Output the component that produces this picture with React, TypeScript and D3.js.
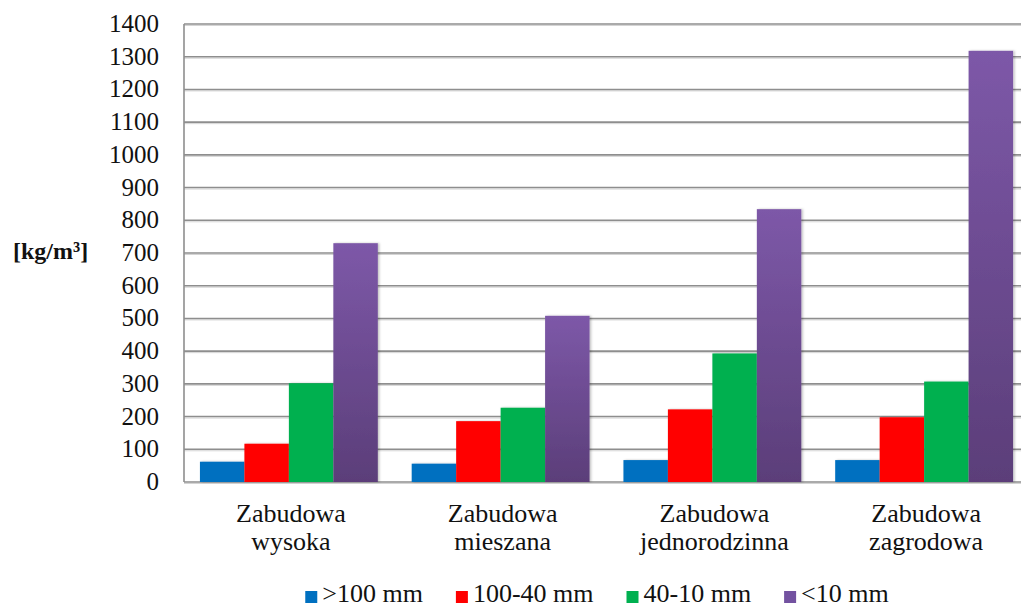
import React, { useEffect, useRef } from "react";
import * as d3 from "d3";

const categories: string[][] = [
  ["Zabudowa", "wysoka"],
  ["Zabudowa", "mieszana"],
  ["Zabudowa", "jednorodzinna"],
  ["Zabudowa", "zagrodowa"],
];
const seriesNames = [">100 mm", "100-40 mm", "40-10 mm", "<10 mm"];
const over100 = [62, 56, 67, 67];
const from100to40 = [117, 186, 222, 198];
const from40to10 = [302, 227, 393, 307];
const under10 = [730, 508, 834, 1318];
const seriesValues = [over100, from100to40, from40to10, under10];
const yTicks = [0, 100, 200, 300, 400, 500, 600, 700, 800, 900, 1000, 1100, 1200, 1300, 1400];
const unitLabel = "[kg/m³]";

const W = 1021;
const H = 612;
const FONT = "'Liberation Serif', 'Times New Roman', serif";

export default function App() {
  const ref = useRef<SVGSVGElement>(null);

  useEffect(() => {
    const svg = d3.select(ref.current);
    svg.selectAll("*").remove();

    const defs = svg.append("defs");
    const grad = defs
      .append("linearGradient")
      .attr("id", "purpleGrad")
      .attr("x1", 0)
      .attr("y1", 0)
      .attr("x2", 0)
      .attr("y2", 1);
    grad.append("stop").attr("offset", "0%").attr("stop-color", "#7d58a8");
    grad.append("stop").attr("offset", "100%").attr("stop-color", "#5b3e79");
    const shadow = defs
      .append("filter")
      .attr("id", "barShadow")
      .attr("x", "-10%")
      .attr("y", "-10%")
      .attr("width", "130%")
      .attr("height", "120%");
    shadow
      .append("feDropShadow")
      .attr("dx", 1.5)
      .attr("dy", 0)
      .attr("stdDeviation", 1.2)
      .attr("flood-color", "#000")
      .attr("flood-opacity", 0.25);

    const colors = ["#0070c0", "#ff0000", "#00b050", "url(#purpleGrad)"];
    const legendColors = ["#0070c0", "#ff0000", "#00b050", "#7352a0"];

    const x0 = d3
      .scaleBand<number>()
      .domain(d3.range(categories.length))
      .range([183, 1030])
      .paddingInner(0.16)
      .paddingOuter(0.08);
    const x1 = d3
      .scaleBand<number>()
      .domain(d3.range(seriesNames.length))
      .range([0, x0.bandwidth()]);
    const y = d3.scaleLinear().domain([0, 1400]).range([482, 24]);

    const plotLeft = 184;
    const plotRight = 1030;

    // gridlines
    const grid = svg.append("g");
    yTicks.forEach((t) => {
      grid
        .append("line")
        .attr("x1", plotLeft)
        .attr("x2", plotRight)
        .attr("y1", y(t) + 1.5)
        .attr("y2", y(t) + 1.5)
        .attr("stroke", "#d4d4d4")
        .attr("stroke-width", 1);
      grid
        .append("line")
        .attr("x1", plotLeft)
        .attr("x2", plotRight)
        .attr("y1", y(t))
        .attr("y2", y(t))
        .attr("stroke", "#8e8e8e")
        .attr("stroke-width", 1.6);
    });
    // left axis line
    svg
      .append("line")
      .attr("x1", plotLeft)
      .attr("x2", plotLeft)
      .attr("y1", y(1400))
      .attr("y2", y(0))
      .attr("stroke", "#8e8e8e")
      .attr("stroke-width", 1.6);

    // bars
    const groups = svg
      .append("g")
      .selectAll("g")
      .data(categories.map((_, i) => i))
      .join("g")
      .attr("transform", (i) => `translate(${x0(i)},0)`);
    groups
      .selectAll("rect")
      .data((i) => seriesValues.map((s, k) => ({ k, v: s[i] })))
      .join("rect")
      .attr("x", (d) => x1(d.k)!)
      .attr("width", x1.bandwidth())
      .attr("y", (d) => y(d.v))
      .attr("height", (d) => y(0) - y(d.v))
      .attr("fill", (d) => colors[d.k])
      .attr("filter", "url(#barShadow)");

    // y tick labels
    svg
      .append("g")
      .selectAll("text")
      .data(yTicks)
      .join("text")
      .attr("x", 159)
      .attr("y", (t) => y(t) + 8)
      .attr("text-anchor", "end")
      .attr("font-family", FONT)
      .attr("font-size", 25)
      .attr("fill", "#111")
      .text((t) => String(t));

    // unit label
    svg
      .append("text")
      .attr("x", 13)
      .attr("y", 259)
      .attr("font-family", FONT)
      .attr("font-size", 24)
      .attr("font-weight", "bold")
      .attr("fill", "#111")
      .text(unitLabel);

    // category labels
    const cat = svg
      .append("g")
      .selectAll("text")
      .data(categories.map((c, i) => ({ c, i })))
      .join("text")
      .attr("text-anchor", "middle")
      .attr("font-family", FONT)
      .attr("font-size", 26)
      .attr("fill", "#111");
    cat
      .selectAll("tspan")
      .data((d) => d.c.map((line, j) => ({ line, j, i: d.i })))
      .join("tspan")
      .attr("x", (d) => x0(d.i)! + x0.bandwidth() / 2 + 2)
      .attr("y", (d) => 522 + d.j * 28)
      .text((d) => d.line);

    // legend
    const legend = svg.append("g");
    const items = seriesNames.map((name, k) => {
      const g = legend.append("g");
      g.append("rect")
        .attr("x", 0)
        .attr("y", 591)
        .attr("width", 12)
        .attr("height", 12)
        .attr("fill", legendColors[k]);
      const t = g
        .append("text")
        .attr("x", 17)
        .attr("y", 602)
        .attr("font-family", FONT)
        .attr("font-size", 26)
        .attr("fill", "#111")
        .text(name);
      const w = 17 + (t.node() as SVGTextElement).getComputedTextLength();
      return { g, w };
    });
    const gap = 33;
    const total = d3.sum(items, (d) => d.w) + gap * (items.length - 1);
    let cx = 597 - total / 2;
    items.forEach(({ g, w }) => {
      g.attr("transform", `translate(${cx},0)`);
      cx += w + gap;
    });
  }, []);

  return (
    <svg
      ref={ref}
      width={W}
      height={H}
      viewBox={`0 0 ${W} ${H}`}
      style={{ position: "absolute", left: 0, top: 0, background: "#fff" }}
    />
  );
}
